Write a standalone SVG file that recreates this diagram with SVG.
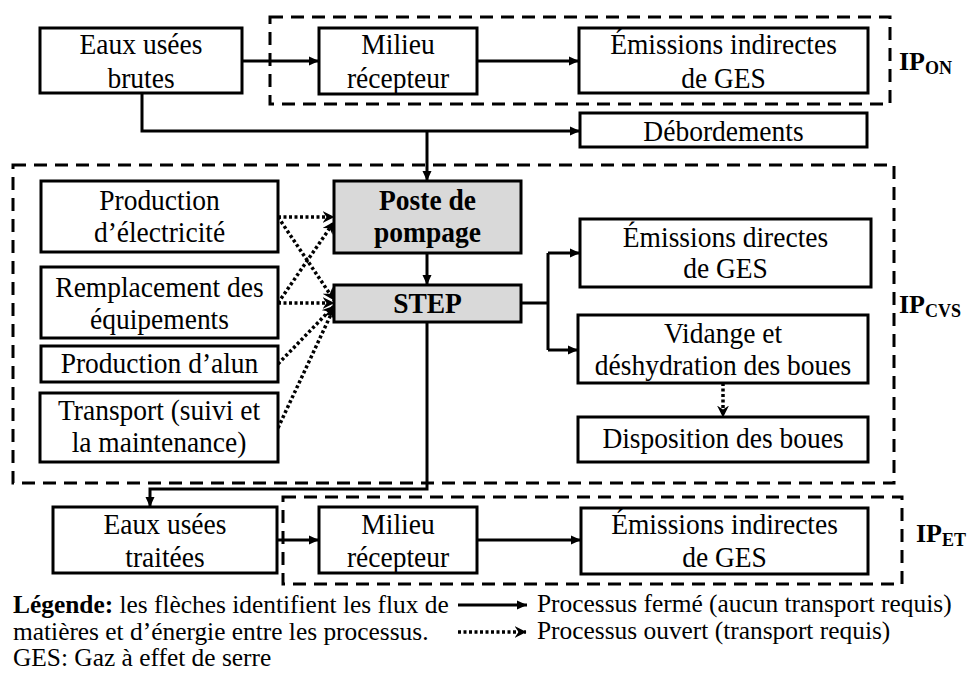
<svg xmlns="http://www.w3.org/2000/svg" width="967" height="675" viewBox="0 0 967 675">
  <style>
    .txt text { font-family: "Liberation Serif", "DejaVu Serif", serif; fill: #000; }
    .box { fill: #fff; stroke: #000; stroke-width: 3; }
    .gray { fill: #d9d9d9; }
    .grp { fill: none; stroke: #000; stroke-width: 3; stroke-dasharray: 13 8; }
    .ln { fill: none; stroke: #000; stroke-width: 3; }
    .dot { fill: none; stroke: #000; stroke-width: 3.5; stroke-dasharray: 3 2.5; }
    .t { font-size: 27.5px; text-anchor: middle; }
    .b { font-weight: bold; }
    .lg { font-size: 25.4px; }
    .ip { font-size: 26px; font-weight: bold; }
    .sub { font-size: 18px; }
  </style>
  <defs>
    <marker id="ah" viewBox="0 0 10 10" refX="10" refY="5" markerWidth="10" markerHeight="10" markerUnits="userSpaceOnUse" orient="auto">
      <path d="M0,0.5 L10,5 L0,9.5 z" fill="#000"/>
    </marker>
    <marker id="ch" viewBox="0 0 12 12" refX="11.5" refY="6" markerWidth="12" markerHeight="12" markerUnits="userSpaceOnUse" orient="auto">
      <path d="M0,0 L12,6 L0,12 L4,6 z" fill="#000"/>
    </marker>
  </defs>

  <g class="txt" font-family="Liberation Serif, DejaVu Serif, serif">

  <!-- system boundaries -->
  <g id="boundaries">
    <rect class="grp" x="270" y="17" width="620" height="87"/>
    <rect class="grp" x="13" y="165" width="881" height="318"/>
    <rect class="grp" x="283" y="497" width="619" height="87"/>
    <text class="ip" x="899" y="70">IP<tspan class="sub" dy="4">ON</tspan></text>
    <text class="ip" x="899" y="313">IP<tspan class="sub" dy="4">CVS</tspan></text>
    <text class="ip" x="916" y="542">IP<tspan class="sub" dy="4">ET</tspan></text>
  </g>

  <!-- connectors -->
  <g id="connectors">
    <line class="ln" x1="242" y1="61" x2="319" y2="61" marker-end="url(#ah)"/>
    <line class="ln" x1="477" y1="61" x2="579" y2="61" marker-end="url(#ah)"/>
    <path class="ln" d="M142,93 V131 H580" marker-end="url(#ah)"/>
    <path class="ln" d="M427,131 V181" marker-end="url(#ah)"/>
    <path class="ln" d="M427,253 V285" marker-end="url(#ah)"/>
    <path class="ln" d="M427,322 V489 H150 V507" marker-end="url(#ah)"/>
    <path class="ln" d="M521,303 H548 M548,253 V350"/>
    <path class="ln" d="M548,253 H580" marker-end="url(#ah)"/>
    <path class="ln" d="M548,350 H578" marker-end="url(#ah)"/>
    <line class="ln" x1="277" y1="540" x2="319" y2="540" marker-end="url(#ah)"/>
    <line class="ln" x1="477" y1="540" x2="581" y2="540" marker-end="url(#ah)"/>
    <line class="dot" x1="723" y1="383" x2="723" y2="417" marker-end="url(#ch)"/>
    <line class="dot" x1="278" y1="217" x2="334" y2="217" marker-end="url(#ch)"/>
    <line class="dot" x1="278" y1="217" x2="334" y2="300" marker-end="url(#ch)"/>
    <line class="dot" x1="278" y1="303" x2="334" y2="222" marker-end="url(#ch)"/>
    <line class="dot" x1="278" y1="303" x2="334" y2="303" marker-end="url(#ch)"/>
    <line class="dot" x1="278" y1="364" x2="334" y2="306" marker-end="url(#ch)"/>
    <line class="dot" x1="278" y1="428" x2="334" y2="308" marker-end="url(#ch)"/>
  </g>

  <g id="eaux-brutes">
    <rect class="box" x="40" y="28" width="202" height="65"/>
    <text class="t" transform="translate(141 54) scale(1 1.1)"><tspan x="0" y="0">Eaux usées</tspan><tspan x="0" y="31">brutes</tspan></text>
  </g>
  <g id="milieu-on">
    <rect class="box" x="319" y="28" width="158" height="66"/>
    <text class="t" transform="translate(398 54) scale(1 1.1)"><tspan x="0" y="0">Milieu</tspan><tspan x="0" y="31">récepteur</tspan></text>
  </g>
  <g id="emissions-on">
    <rect class="box" x="579" y="28" width="289" height="65"/>
    <text class="t" transform="translate(723.5 54) scale(1 1.1)"><tspan x="0" y="0">Émissions indirectes</tspan><tspan x="0" y="31">de GES</tspan></text>
  </g>
  <g id="debordements">
    <rect class="box" x="580" y="113" width="287" height="34"/>
    <text class="t" transform="translate(723.5 141) scale(1 1.1)">Débordements</text>
  </g>

  <g id="electricite">
    <rect class="box" x="41" y="181" width="237" height="71"/>
    <text class="t" transform="translate(159.5 210) scale(1 1.1)"><tspan x="0" y="0">Production</tspan><tspan x="0" y="29.5">d’électricité</tspan></text>
  </g>
  <g id="remplacement">
    <rect class="box" x="41" y="267" width="237" height="71"/>
    <text class="t" transform="translate(159.5 297) scale(1 1.1)"><tspan x="0" y="0">Remplacement des</tspan><tspan x="0" y="29">équipements</tspan></text>
  </g>
  <g id="alun">
    <rect class="box" x="41" y="346" width="237" height="36"/>
    <text class="t" transform="translate(159.5 373) scale(1 1.1)">Production d’alun</text>
  </g>
  <g id="transport">
    <rect class="box" x="40" y="393" width="238" height="69"/>
    <text class="t" transform="translate(159 420) scale(1 1.1)"><tspan x="0" y="0">Transport (suivi et</tspan><tspan x="0" y="29">la maintenance)</tspan></text>
  </g>

  <g id="poste">
    <rect class="box gray" x="334" y="181" width="187" height="72"/>
    <text class="t b" transform="translate(427.5 210) scale(1 1.1)"><tspan x="0" y="0">Poste de</tspan><tspan x="0" y="29.5">pompage</tspan></text>
  </g>
  <g id="step">
    <rect class="box gray" x="334" y="285" width="187" height="37"/>
    <text class="t b" transform="translate(427.5 313) scale(1 1.1)">STEP</text>
  </g>

  <g id="emissions-directes">
    <rect class="box" x="580" y="219" width="291" height="68"/>
    <text class="t" transform="translate(725.5 247) scale(1 1.1)"><tspan x="0" y="0">Émissions directes</tspan><tspan x="0" y="28.5">de GES</tspan></text>
  </g>
  <g id="vidange">
    <rect class="box" x="578" y="315" width="290" height="68"/>
    <text class="t" transform="translate(723 343) scale(1 1.1)"><tspan x="0" y="0">Vidange et</tspan><tspan x="0" y="29">déshydration des boues</tspan></text>
  </g>
  <g id="disposition">
    <rect class="box" x="578" y="417" width="290" height="45"/>
    <text class="t" transform="translate(723 448) scale(1 1.1)">Disposition des boues</text>
  </g>

  <g id="eaux-traitees">
    <rect class="box" x="53" y="507" width="224" height="66"/>
    <text class="t" transform="translate(165 534) scale(1 1.1)"><tspan x="0" y="0">Eaux usées</tspan><tspan x="0" y="30">traitées</tspan></text>
  </g>
  <g id="milieu-et">
    <rect class="box" x="319" y="507" width="158" height="66"/>
    <text class="t" transform="translate(398 534) scale(1 1.1)"><tspan x="0" y="0">Milieu</tspan><tspan x="0" y="30">récepteur</tspan></text>
  </g>
  <g id="emissions-et">
    <rect class="box" x="581" y="508" width="287" height="66"/>
    <text class="t" transform="translate(724.5 534) scale(1 1.1)"><tspan x="0" y="0">Émissions indirectes</tspan><tspan x="0" y="30">de GES</tspan></text>
  </g>

  <!-- legend -->
  <g id="legend">
    <text class="lg" x="13" y="613"><tspan font-weight="bold">Légende:</tspan> les flèches identifient les flux de</text>
    <text class="lg" x="13" y="640">matières et d’énergie entre les processus.</text>
    <text class="lg" x="13" y="666">GES: Gaz à effet de serre</text>
    <line class="ln" x1="458" y1="605" x2="527" y2="605" marker-end="url(#ah)"/>
    <line class="dot" x1="458" y1="632" x2="526" y2="632" marker-end="url(#ch)"/>
    <text class="lg" x="537" y="612">Processus fermé (aucun transport requis)</text>
    <text class="lg" x="537" y="639">Processus ouvert (transport requis)</text>
  </g>

  </g>
</svg>
